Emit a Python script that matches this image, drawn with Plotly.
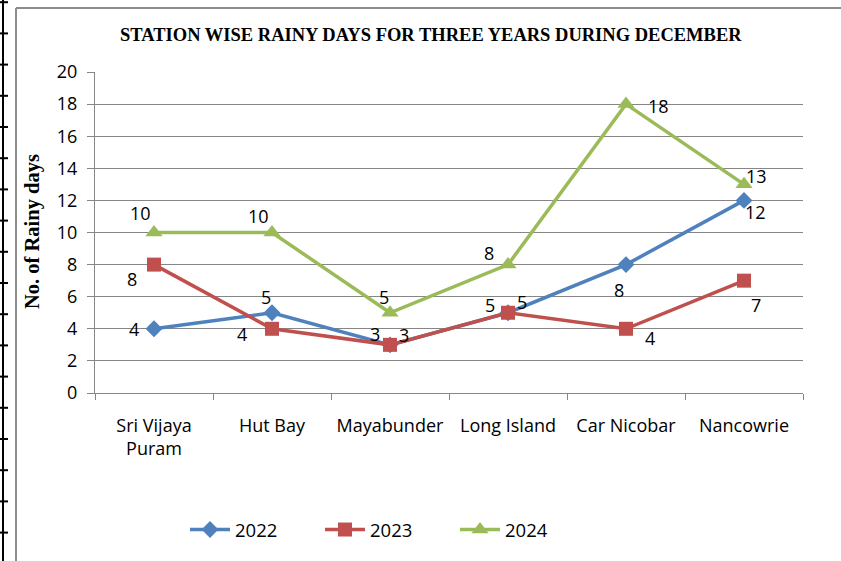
import plotly.graph_objects as go

# ---- data ----
stations = ["Sri Vijaya<br>Puram", "Hut Bay", "Mayabunder", "Long Island", "Car Nicobar", "Nancowrie"]
years = ["2022", "2023", "2024"]
days_2022 = [4, 5, 3, 5, 8, 12]
days_2023 = [8, 4, 3, 5, 4, 7]
days_2024 = [10, 10, 5, 8, 18, 13]
y_ticks = [0, 2, 4, 6, 8, 10, 12, 14, 16, 18, 20]

series = [days_2022, days_2023, days_2024]
colors = ["#4F81BD", "#C0504D", "#9BBB59"]
symbols = ["diamond", "square", "triangle-up"]
msizes = [13, 14, 15]

# label offsets (px) for data labels
label_shift = [
    [(-20, 0), (-6, 16), (-15, 11), (14, 11), (-7, -25), (11, -12)],
    [(-22, -14), (-30, -5), (14, 10), (-18, 8), (24, -9), (12, -24)],
    [(-14, 20), (-14, 17), (-6, 16), (-19, 12), (32, -2), (12, 8)],
]

W, H = 841, 561
ML, MR, MT, MB = 95, 38, 72, 168
PW, PH = W - ML - MR, H - MT - MB


def px(x):
    return (x - ML) / PW


def py(y):
    return (H - MB - y) / PH


FONT = "Open Sans, Lato, Carlito, Calibri, sans-serif"
tick_font = dict(family=FONT, size=18, color="#000000")
label_font = dict(family=FONT, size=18, color="#000000")

fig = go.Figure()
for i, vals in enumerate(series):
    fig.add_trace(go.Scatter(
        x=stations, y=vals, name=years[i], mode="lines+markers",
        line=dict(color=colors[i], width=3.5),
        marker=dict(symbol=symbols[i], size=msizes[i], color=colors[i]),
        cliponaxis=False,
    ))

annotations = []
for i, vals in enumerate(series):
    for j, v in enumerate(vals):
        dx, dy = label_shift[i][j]
        annotations.append(dict(
            x=stations[j], y=v, text=str(v), showarrow=False,
            xshift=dx, yshift=dy, font=label_font,
        ))

annotations.append(dict(
    xref="paper", yref="paper", x=px(431), y=py(35), xanchor="center", yanchor="middle",
    text="<b>STATION WISE RAINY DAYS FOR THREE YEARS DURING DECEMBER</b>", showarrow=False,
    font=dict(family="Liberation Serif, Times New Roman, serif", size=18.5, color="#000000"),
))
annotations.append(dict(
    xref="paper", yref="paper", x=px(32), y=py(232), xanchor="center", yanchor="middle",
    text="<b>No. of Rainy days</b>", showarrow=False, textangle=-90,
    font=dict(family="Liberation Serif, Times New Roman, serif", size=20.5, color="#000000"),
))

shapes = []
# chart frame
shapes.append(dict(type="line", xref="paper", yref="paper", x0=px(16), x1=px(16), y0=py(8), y1=py(H + 2),
                   line=dict(color="#8C8C8C", width=2)))
shapes.append(dict(type="line", xref="paper", yref="paper", x0=px(16), x1=px(W + 2), y0=py(8), y1=py(8),
                   line=dict(color="#8C8C8C", width=2)))
# page margin rule at far left
shapes.append(dict(type="line", xref="paper", yref="paper", x0=px(3), x1=px(3), y0=py(-2), y1=py(H + 2),
                   line=dict(color="#000000", width=2)))
k = 0
while True:
    yy = 2.2 + 31.2 * k
    if yy > H:
        break
    shapes.append(dict(type="line", xref="paper", yref="paper", x0=px(0), x1=px(8), y0=py(yy), y1=py(yy),
                       line=dict(color="#000000", width=2)))
    k += 1

fig.update_layout(
    width=W, height=H,
    margin=dict(l=ML, r=MR, t=MT, b=MB, pad=0),
    paper_bgcolor="#FFFFFF", plot_bgcolor="#FFFFFF",
    showlegend=True,
    legend=dict(orientation="h", x=px(185), y=py(530), xanchor="left", yanchor="middle",
                font=dict(family=FONT, size=18.5, color="#000000"),
                entrywidth=80, entrywidthmode="pixels", itemwidth=40),
    annotations=annotations,
    shapes=shapes,
)
fig.update_xaxes(
    type="category", range=[-0.5, 5.5], showgrid=False,
    showline=True, linecolor="#868686", linewidth=1,
    ticks="outside", tickson="boundaries", ticklen=6, tickcolor="#868686",
    tickangle=0,
    tickfont=dict(family=FONT, size=18, color="#000000"), ticklabelstandoff=16, zeroline=False,
)
fig.update_yaxes(
    range=[0, 20], tickvals=y_ticks, showgrid=True, gridcolor="#868686", gridwidth=1,
    showline=True, linecolor="#868686", linewidth=1,
    ticks="outside", ticklen=7, tickcolor="#868686",
    tickfont=tick_font, zeroline=False, ticklabelstandoff=6,
)

fig.write_html("out.html", config={"displayModeBar": False},
               post_script="document.body.style.margin='0';document.body.style.overflow='hidden';")
